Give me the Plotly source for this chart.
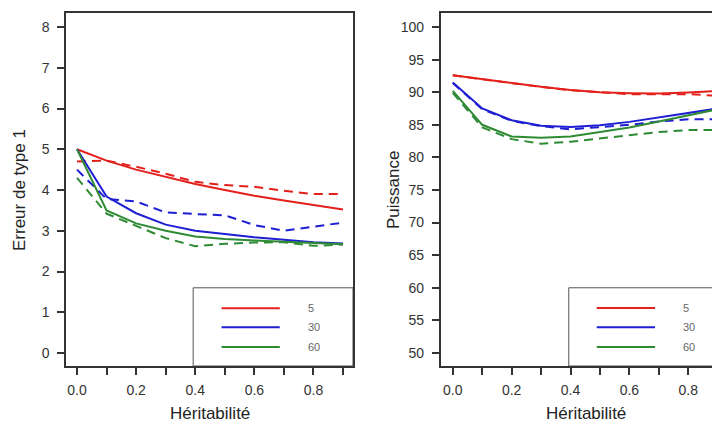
import plotly.graph_objects as go

# ---- data ----
heritabilite = [0.0, 0.1, 0.2, 0.3, 0.4, 0.5, 0.6, 0.7, 0.8, 0.9]
legend_labels = ["5", "30", "60"]

# Erreur de type 1 (left panel)
err_5_solid = [5.00, 4.72, 4.50, 4.32, 4.15, 4.00, 3.86, 3.74, 3.63, 3.52]
err_5_dash = [4.70, 4.72, 4.57, 4.40, 4.20, 4.12, 4.08, 3.98, 3.90, 3.90]
err_30_solid = [5.00, 3.84, 3.43, 3.15, 3.00, 2.92, 2.84, 2.78, 2.72, 2.69]
err_30_dash = [4.50, 3.78, 3.72, 3.45, 3.41, 3.38, 3.14, 3.00, 3.10, 3.20]
err_60_solid = [5.00, 3.50, 3.18, 3.00, 2.86, 2.80, 2.76, 2.73, 2.70, 2.67]
err_60_dash = [4.30, 3.42, 3.12, 2.82, 2.62, 2.68, 2.71, 2.72, 2.63, 2.66]

# Puissance (right panel)
pui_5_solid = [92.6, 92.0, 91.4, 90.85, 90.35, 90.0, 89.85, 89.8, 89.95, 90.2]
pui_5_dash = [92.6, 92.0, 91.35, 90.8, 90.3, 89.95, 89.7, 89.7, 89.7, 89.45]
pui_30_solid = [91.5, 87.5, 85.7, 84.85, 84.65, 84.95, 85.45, 86.1, 86.75, 87.5]
pui_30_dash = [91.4, 87.4, 85.6, 84.8, 84.3, 84.6, 85.0, 85.5, 85.85, 85.85]
pui_60_solid = [90.2, 85.0, 83.2, 83.0, 83.2, 83.9, 84.6, 85.5, 86.4, 87.4]
pui_60_dash = [89.9, 84.6, 82.8, 82.1, 82.4, 82.9, 83.4, 83.9, 84.2, 84.2]

x_tickvals = [0.0, 0.1, 0.2, 0.3, 0.4, 0.5, 0.6, 0.7, 0.8, 0.9]
x_ticktext = ["0.0", "", "0.2", "", "0.4", "", "0.6", "", "0.8", ""]
err_ticks = [0, 1, 2, 3, 4, 5, 6, 7, 8]
pui_ticks = [50, 55, 60, 65, 70, 75, 80, 85, 90, 95, 100]

# ---- styling ----
colors = ["#e3201b", "#1e1ed2", "#2e8b34"]
FONT = "Liberation Sans, Arial, sans-serif"
DASH = "9px,6px"

# The page body has an 8px margin: figure pixel = page pixel - OFF
OFF = 8
W, H = 712, 416


def px(xp):
    return (xp - OFF) / W


def py(yp):
    return 1 - (yp - OFF) / H


fig = go.Figure()

left_series = [(err_5_solid, err_5_dash), (err_30_solid, err_30_dash), (err_60_solid, err_60_dash)]
right_series = [(pui_5_solid, pui_5_dash), (pui_30_solid, pui_30_dash), (pui_60_solid, pui_60_dash)]

for (s, d), c, lab in zip(left_series, colors, legend_labels):
    fig.add_trace(go.Scatter(x=heritabilite, y=d, mode="lines", line=dict(color=c, width=2, dash=DASH),
                             xaxis="x", yaxis="y", showlegend=False, name=lab))
    fig.add_trace(go.Scatter(x=heritabilite, y=s, mode="lines", line=dict(color=c, width=2),
                             xaxis="x", yaxis="y", showlegend=False, name=lab))
for (s, d), c, lab in zip(right_series, colors, legend_labels):
    fig.add_trace(go.Scatter(x=heritabilite, y=d, mode="lines", line=dict(color=c, width=2, dash=DASH),
                             xaxis="x2", yaxis="y2", showlegend=False, name=lab))
    fig.add_trace(go.Scatter(x=heritabilite, y=s, mode="lines", line=dict(color=c, width=2),
                             xaxis="x2", yaxis="y2", showlegend=False, name=lab))

axis_common = dict(showgrid=False, zeroline=False, showline=True, linecolor="#333333", linewidth=1.5,
                   ticks="outside", ticklen=7, tickwidth=1.5, tickcolor="#333333",
                   tickfont=dict(family=FONT, size=14, color="#333333"))

fig.update_layout(
    width=W, height=H, margin=dict(l=0, r=0, t=0, b=0),
    paper_bgcolor="white", plot_bgcolor="white", showlegend=False,
    xaxis=dict(domain=[px(66), px(353)], range=[-0.0372, 0.9337], anchor="y", mirror=True,
               tickvals=x_tickvals, ticktext=x_ticktext, ticklabelstandoff=3, **axis_common),
    yaxis=dict(domain=[py(366), py(13)], range=[-0.319, 8.344], anchor="x", mirror=True,
               tickvals=err_ticks, ticklabelstandoff=5, **axis_common),
    xaxis2=dict(domain=[px(440.7), 1.0], range=[-0.041, 0.9076], anchor="y2", mirror=True,
                tickvals=x_tickvals, ticktext=x_ticktext, ticklabelstandoff=3, **axis_common),
    yaxis2=dict(domain=[py(366), py(13)], range=[48.0, 102.15], anchor="x2",
                tickvals=pui_ticks, ticklabelstandoff=5, **axis_common),
)

# legend boxes
fig.add_shape(type="rect", xref="x", yref="y", x0=0.393, x1=0.9337, y0=-0.319, y1=1.6,
              line=dict(color="#555555", width=1), fillcolor="rgba(0,0,0,0)", layer="above")
fig.add_shape(type="rect", xref="x2", yref="y2", x0=0.394, x1=1.2, y0=48.0, y1=60.0,
              line=dict(color="#555555", width=1), fillcolor="rgba(0,0,0,0)", layer="above")

leg_y_left = [1.10, 0.63, 0.15]
leg_y_right = [56.9, 53.94, 50.92]
for c, lab, yl, yr in zip(colors, legend_labels, leg_y_left, leg_y_right):
    fig.add_shape(type="line", xref="x", yref="y", x0=0.489, x1=0.686, y0=yl, y1=yl,
                  line=dict(color=c, width=2), layer="above")
    fig.add_annotation(xref="x", yref="y", x=0.775, y=yl, text=lab, showarrow=False,
                       xanchor="left", yanchor="middle",
                       font=dict(family=FONT, size=11, color="#666666"))
    fig.add_shape(type="line", xref="x2", yref="y2", x0=0.489, x1=0.687, y0=yr, y1=yr,
                  line=dict(color=c, width=2), layer="above")
    fig.add_annotation(xref="x2", yref="y2", x=0.775, y=yr, text=lab, showarrow=False,
                       xanchor="left", yanchor="middle",
                       font=dict(family=FONT, size=11, color="#666666"))

# axis titles
title_font = dict(family=FONT, size=17, color="#222222")
common_ann = dict(xref="paper", yref="paper", showarrow=False, xanchor="center", yanchor="middle",
                  font=title_font)
fig.add_annotation(x=px(210), y=py(413), text="Héritabilité", **common_ann)
fig.add_annotation(x=px(586), y=py(413), text="Héritabilité", **common_ann)
fig.add_annotation(x=px(19), y=py(190), text="Erreur de type 1", textangle=-90, **common_ann)
fig.add_annotation(x=px(393), y=py(190), text="Puissance", textangle=-90, **common_ann)

fig.write_html("out.html")
